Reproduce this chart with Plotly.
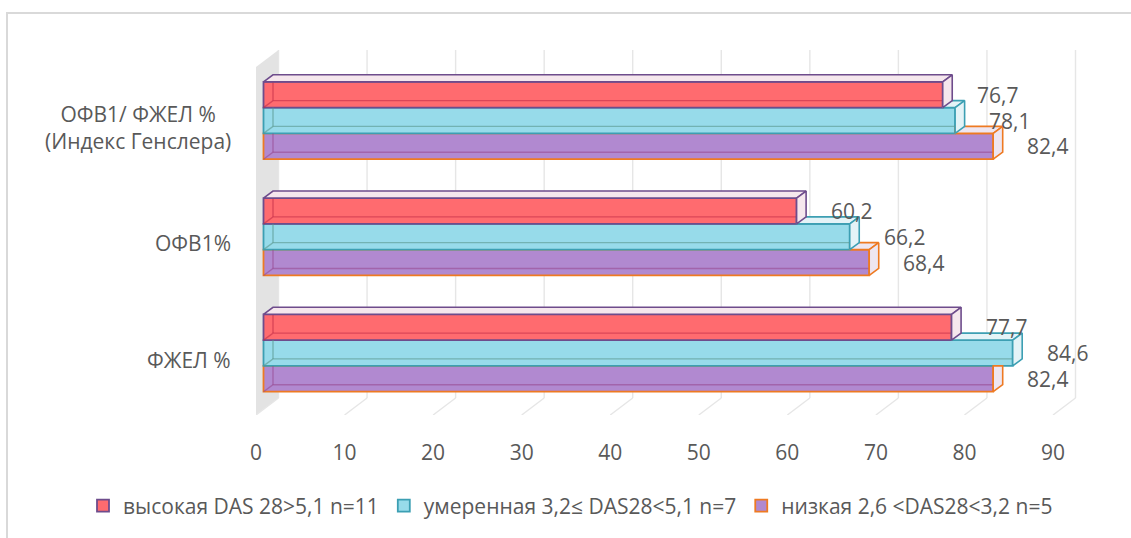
import plotly.graph_objects as go

# ---- data ----
categories = ["ФЖЕЛ %", "ОФВ1%", "ОФВ1/ ФЖЕЛ %<br>(Индекс Генслера)"]
series_names = [
    "высокая DAS 28>5,1 n=11",
    "умеренная 3,2≤ DAS28<5,1 n=7",
    "низкая 2,6 <DAS28<3,2 n=5",
]
high = [77.7, 60.2, 76.7]
moderate = [84.6, 66.2, 78.1]
low = [82.4, 68.4, 82.4]
x_ticks = [0, 10, 20, 30, 40, 50, 60, 70, 80, 90]

# ---- geometry ----
W, H = 1131, 538
ML, MR, MT, MB = 256, 47, 50, 123
XR = 93.5
PW = W - ML - MR
PH = H - MT - MB
PX = PW / XR                      # pixels per x unit
Y0, Y1 = -0.5333, 2.6065           # y range (category units)
PY = PH / (Y1 - Y0)                # pixels per y unit

BAR_H = 0.222                      # bar thickness
BAR_SHIFT = 7.5 / PX               # bar front plane sits behind the floor edge
DX = 9.5 / PX                      # bar depth, x direction
DY = 7.0 / PY                      # bar depth, y direction
WALL_DX = 22.5 / PX                # back wall offset
WALL_DY = 17.0 / PY

cat_pos = [0, 1, 2]

GREY_TXT = "#595959"
FONT = "Open Sans"
FS = 21

# drawn bottom bar first so that upper bars cover lower ones
styles = [
    # values, name, face, edge, light, inner line, offset
    (low, series_names[2], "#B189D0", "#EE7A22", "#EEE6F1", "rgba(150,70,140,0.55)", -BAR_H),
    (moderate, series_names[1], "#97DBEA", "#3C9FB3", "#E4F3F7", "rgba(90,150,140,0.6)", 0.0),
    (high, series_names[0], "#FF6B6F", "#6E4C8C", "#F5E7ED", "rgba(190,40,70,0.55)", BAR_H),
]

fig = go.Figure()

# front faces of the boxes
for vals, name, face, edge, light, inner, off in styles:
    fig.add_trace(go.Bar(
        orientation="h",
        x=vals,
        y=[c + off for c in cat_pos],
        width=BAR_H,
        name=name,
        marker=dict(color=face, line=dict(color=edge, width=1.8)),
        xaxis="x2", yaxis="y",
        hoverinfo="x+name",
    ))


def poly(fig, pts, fill, edge, width=1.6):
    xs = [p[0] for p in pts] + [pts[0][0]]
    ys = [p[1] for p in pts] + [pts[0][1]]
    fig.add_trace(go.Scatter(
        x=xs, y=ys, mode="lines", fill="toself", fillcolor=fill,
        line=dict(color=edge, width=width), xaxis="x2", yaxis="y",
        showlegend=False, hoverinfo="skip",
    ))


def line(fig, pts, color, width=1.4):
    fig.add_trace(go.Scatter(
        x=[p[0] for p in pts], y=[p[1] for p in pts], mode="lines",
        line=dict(color=color, width=width), xaxis="x2", yaxis="y",
        showlegend=False, hoverinfo="skip",
    ))


# see-through back edges, top faces and end faces
for s, (vals, name, face, edge, light, inner, off) in enumerate(styles):
    upper = styles[s + 1][0] if s + 1 < len(styles) else None
    for c, v in zip(cat_pos, vals):
        yb = c + off - BAR_H / 2
        yt = yb + BAR_H
        u = upper[cat_pos.index(c)] if upper is not None else None

        # hidden edges visible through the translucent box
        line(fig, [(0, yb), (DX, yb + DY), (v, yb + DY)], inner)
        line(fig, [(DX, yb + DY), (DX, yt)], inner)

        # top face (only the part not covered by the bar above)
        if u is None:
            top = [(0, yt), (v, yt), (v + DX, yt + DY), (DX, yt + DY)]
        elif u <= v:
            top = [(u, yt), (v, yt), (v + DX, yt + DY), (u, yt + DY)]
        elif u < v + DX:
            top = [(u, yt + DY * (u - v) / DX), (v + DX, yt + DY), (u, yt + DY)]
        else:
            top = None
        if top:
            poly(fig, top, light, edge)

        # end face
        if u is None or u <= v:
            end = [(v, yb), (v, yt), (v + DX, yt + DY), (v + DX, yb + DY)]
        elif u >= v + DX:
            end = [(v, yb), (v, yt), (v + DX, yt), (v + DX, yb + DY)]
        else:
            end = [(v, yb), (v, yt), (u, yt), (u, yt + DY * (u - v) / DX),
                   (v + DX, yt + DY), (v + DX, yb + DY)]
        poly(fig, end, light, edge)

# value labels
annotations = []
for vals, name, face, edge, light, inner, off in styles:
    for c, v in zip(cat_pos, vals):
        annotations.append(dict(
            x=v, y=c + off, xref="x2", yref="y",
            text=f"{v:.1f}".replace(".", ","),
            xanchor="left", yanchor="middle", xshift=32, showarrow=False,
            font=dict(family=FONT, size=FS, color=GREY_TXT),
        ))

# category labels
for c, cat in zip(cat_pos, categories):
    annotations.append(dict(
        x=(233 - ML) / PW, y=c - 6.5 / PY, xref="paper", yref="y",
        text=cat, xanchor="right", yanchor="middle", align="center",
        showarrow=False, font=dict(family=FONT, size=FS, color=GREY_TXT),
    ))

# back wall, floor grid and side wall
shapes = []
wall_path = (f"M 0,{Y0} L 0,{Y1 - WALL_DY} L {WALL_DX},{Y1} "
             f"L {WALL_DX},{Y0 + WALL_DY} Z")
shapes.append(dict(type="path", path=wall_path, xref="x", yref="y",
                   fillcolor="#E3E3E3", line=dict(width=0), layer="below"))
for t in x_ticks:
    shapes.append(dict(type="line", xref="x", yref="y",
                       x0=t + WALL_DX, x1=t + WALL_DX, y0=Y0 + WALL_DY, y1=Y1,
                       line=dict(color="#E6E6E6", width=1.4), layer="below"))
    shapes.append(dict(type="line", xref="x", yref="y",
                       x0=t + WALL_DX, x1=t, y0=Y0 + WALL_DY, y1=Y0,
                       line=dict(color="#E6E6E6", width=1.4), layer="below"))

# chart frame
shapes.append(dict(type="rect", xref="paper", yref="paper",
                   x0=(7 - ML) / PW, x1=(1140 - ML) / PW,
                   y0=(H - MB - 560) / PH, y1=(H - MB - 13) / PH,
                   line=dict(color="#D9D9D9", width=2), layer="below"))

fig.update_layout(
    width=W, height=H,
    margin=dict(l=ML, r=MR, t=MT, b=MB),
    paper_bgcolor="white", plot_bgcolor="white",
    barmode="overlay",
    font=dict(family=FONT, color=GREY_TXT),
    xaxis=dict(range=[0, XR], tickvals=x_ticks, ticktext=[str(t) for t in x_ticks],
               showgrid=False, zeroline=False, showline=False, ticks="",
               ticklabelstandoff=23,
               tickfont=dict(family=FONT, size=FS, color=GREY_TXT),
               fixedrange=True),
    xaxis2=dict(range=[-BAR_SHIFT, XR - BAR_SHIFT], overlaying="x", visible=False,
                fixedrange=True),
    yaxis=dict(range=[Y0, Y1], showticklabels=False, showgrid=False,
               zeroline=False, showline=False, fixedrange=True),
    legend=dict(orientation="h", traceorder="reversed",
                x=(83 - ML) / PW, xanchor="left",
                y=(H - MB - 506) / PH, yanchor="middle",
                font=dict(family=FONT, size=FS, color=GREY_TXT),
                itemclick=False, itemdoubleclick=False),
    annotations=annotations,
    shapes=shapes,
    showlegend=True,
)

fig.write_html("out.html")
